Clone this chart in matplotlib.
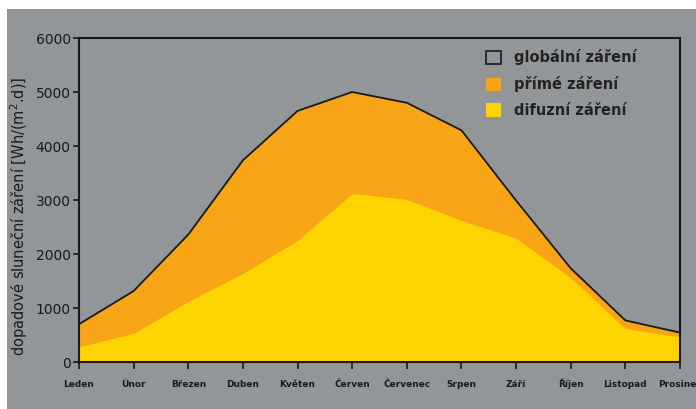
import matplotlib.pyplot as plt
from matplotlib.patches import Rectangle, Patch

mesice = ['Leden', 'Únor', 'Březen', 'Duben', 'Květen', 'Červen',
          'Červenec', 'Srpen', 'Září', 'Říjen', 'Listopad', 'Prosinec']
globalni = [700, 1315, 2360, 3735, 4650, 5000, 4800, 4290, 2990, 1735, 770, 545]
difuzni = [280, 530, 1120, 1640, 2250, 3120, 3010, 2620, 2290, 1560, 620, 465]

sede = '#939698'
oranzova = '#F7A516'
zluta = '#FFD400'

fig = plt.figure(figsize=(6.96, 4.09), dpi=100, facecolor='white')
# sedy podklad, nahore a vlevo zustava uzky bily okraj
fig.patches.append(Rectangle((7 / 696, 0), 1, (409 - 9) / 409,
                             transform=fig.transFigure, facecolor=sede,
                             edgecolor='none', zorder=-10))
ax = fig.add_axes([79 / 696, (409 - 362) / 409, 601 / 696, 324 / 409])
ax.set_facecolor(sede)

x = list(range(len(mesice)))
ax.fill_between(x, 0, globalni, color=oranzova, lw=0)
ax.fill_between(x, 0, difuzni, color=zluta, lw=0)
ax.plot(x, globalni, color='#1a1a1a', lw=1.3)

ax.set_xlim(0, len(mesice) - 1)
ax.set_ylim(0, 6000)
ax.set_yticks([0, 1000, 2000, 3000, 4000, 5000, 6000])
ax.set_xticks(x)
ax.set_xticklabels(mesice, fontsize=6.5, fontweight='bold', color='#1a1a1a',
                   va='baseline')
for lab in ax.get_yticklabels():
    lab.set_fontsize(10)
    lab.set_color('#1a1a1a')
ax.tick_params(axis='x', length=5, width=1.2, pad=13, color='#1a1a1a')
ax.tick_params(axis='y', length=4, width=1.2, pad=2, color='#1a1a1a')
for s in ax.spines.values():
    s.set_linewidth(1.5)
    s.set_color('#1a1a1a')

ax.set_ylabel('dopadové sluneční záření [Wh/(m$^2$.d)]', fontsize=10.5,
              color='#1a1a1a')
ax.yaxis.set_label_coords(-0.082, 0.45)

handles = [Patch(facecolor='none', edgecolor='#1a1a1a', lw=1.2),
           Patch(facecolor=oranzova, edgecolor='none'),
           Patch(facecolor=zluta, edgecolor='none')]
leg = ax.legend(handles, ['globální záření', 'přímé záření', 'difuzní záření'],
                loc='upper left', frameon=False, fontsize=10.5,
                handlelength=1.05, handleheight=1.05, handletextpad=0.85,
                labelspacing=0.75, borderpad=0, borderaxespad=0,
                bbox_to_anchor=(0.677, 0.965))
for t in leg.get_texts():
    t.set_fontweight('bold')
    t.set_color('#222222')

fig.savefig('out.png', dpi=100, facecolor='white')
